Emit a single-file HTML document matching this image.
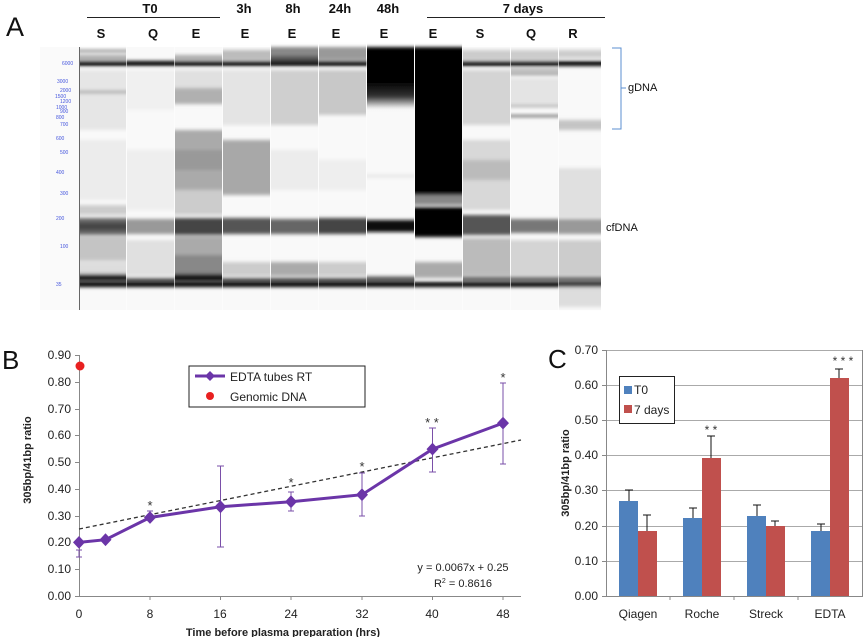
<!DOCTYPE html>
<html><head><meta charset="utf-8"><style>
html,body{margin:0;padding:0;background:#fff;}
svg{display:block;font-family:"Liberation Sans",sans-serif;}
</style></head><body>
<svg width="864" height="637" viewBox="0 0 864 637" xmlns="http://www.w3.org/2000/svg">
<defs>
<filter id="bl" x="0" y="-0.2" width="1" height="1.4"><feGaussianBlur stdDeviation="0 1.8"/></filter>
<linearGradient id="g48" x1="0" y1="0" x2="0" y2="1"><stop offset="0" stop-color="#000"/><stop offset="0.55" stop-color="#000"/><stop offset="0.8" stop-color="#333"/><stop offset="1" stop-color="#fff"/></linearGradient>
</defs>
<!-- Panel A -->
<text x="6" y="36" font-size="27" fill="#111">A</text>
<g font-weight="bold" font-size="13" fill="#111" text-anchor="middle">
<text x="150" y="13">T0</text><text x="244" y="13">3h</text><text x="293" y="13">8h</text><text x="340" y="13">24h</text><text x="388" y="13">48h</text><text x="523" y="13">7 days</text>
<text x="101" y="38">S</text><text x="153" y="38">Q</text><text x="196" y="38">E</text><text x="245" y="38">E</text><text x="292" y="38">E</text><text x="336" y="38">E</text><text x="384" y="38">E</text><text x="433" y="38">E</text><text x="480" y="38">S</text><text x="531" y="38">Q</text><text x="573" y="38">R</text>
</g>
<line x1="87" y1="17.5" x2="220" y2="17.5" stroke="#222" stroke-width="1"/>
<line x1="427" y1="17.5" x2="605" y2="17.5" stroke="#222" stroke-width="1"/>
<rect x="40" y="47" width="39" height="263" fill="#fafafa"/>
<rect x="79" y="47" width="522" height="263" fill="#f9f9f9"/>
<g filter="url(#bl)">
<!-- lane1 S -->
<rect x="80" y="50" width="46" height="2" fill="#777"/><rect x="80" y="55" width="46" height="5" fill="#aaa"/>
<rect x="80" y="70" width="46" height="60" fill="#e6e6e6"/><rect x="80" y="91" width="46" height="2" fill="#888"/>
<rect x="80" y="140" width="46" height="60" fill="#ececec"/><rect x="80" y="205" width="46" height="10" fill="#ccc"/>
<rect x="80" y="218" width="46" height="17" fill="#666"/><rect x="80" y="223" width="46" height="7" fill="#444"/>
<rect x="80" y="236" width="46" height="25" fill="#c4c4c4"/><rect x="80" y="262" width="46" height="14" fill="#ddd"/>
<!-- lane2 Q -->
<rect x="127" y="70" width="47" height="40" fill="#f0f0f0"/><rect x="127" y="150" width="47" height="60" fill="#eee"/>
<rect x="127" y="219" width="47" height="15" fill="#999"/><rect x="127" y="240" width="47" height="36" fill="#e0e0e0"/>
<!-- lane3 E -->
<rect x="175" y="55" width="47" height="5" fill="#aaa"/><rect x="175" y="70" width="47" height="20" fill="#e0e0e0"/>
<rect x="175" y="88" width="47" height="16" fill="#b0b0b0"/><rect x="175" y="130" width="47" height="60" fill="#aaa"/>
<rect x="175" y="150" width="47" height="20" fill="#999"/><rect x="175" y="190" width="47" height="25" fill="#ccc"/>
<rect x="175" y="218" width="47" height="17" fill="#444"/><rect x="175" y="236" width="47" height="40" fill="#aaa"/><rect x="175" y="255" width="47" height="20" fill="#888"/>
<!-- lane4 3h -->
<rect x="223" y="50" width="47" height="10" fill="#bbb"/><rect x="223" y="70" width="47" height="55" fill="#e4e4e4"/>
<rect x="223" y="140" width="47" height="55" fill="#a8a8a8"/><rect x="223" y="218" width="47" height="16" fill="#555"/><rect x="223" y="262" width="47" height="14" fill="#ccc"/>
<!-- lane5 8h -->
<rect x="271" y="47" width="47" height="13" fill="#888"/><rect x="271" y="56" width="47" height="5" fill="#555"/><rect x="271" y="70" width="47" height="55" fill="#cfcfcf"/>
<rect x="271" y="150" width="47" height="40" fill="#ececec"/><rect x="271" y="219" width="47" height="15" fill="#666"/><rect x="271" y="262" width="47" height="14" fill="#aaa"/>
<!-- lane6 24h -->
<rect x="319" y="47" width="47" height="13" fill="#999"/><rect x="319" y="70" width="47" height="45" fill="#c8c8c8"/>
<rect x="319" y="160" width="47" height="30" fill="#eee"/><rect x="319" y="218" width="47" height="16" fill="#444"/><rect x="319" y="262" width="47" height="14" fill="#ccc"/>
<!-- lane7 48h -->
<rect x="367" y="47" width="47" height="62" fill="url(#g48)"/><rect x="367" y="175" width="47" height="2" fill="#ddd"/>
<rect x="367" y="220" width="47" height="12" fill="#111"/><rect x="367" y="276" width="47" height="2" fill="#888"/>
<!-- lane8 7d E -->
<rect x="415" y="47" width="47" height="148" fill="#000"/><rect x="415" y="195" width="47" height="10" fill="#888"/>
<rect x="415" y="207" width="47" height="30" fill="#000"/><rect x="415" y="262" width="47" height="16" fill="#aaa"/>
<!-- lane9 7d S -->
<rect x="463" y="50" width="47" height="10" fill="#ccc"/><rect x="463" y="70" width="47" height="55" fill="#d4d4d4"/>
<rect x="463" y="140" width="47" height="70" fill="#d8d8d8"/><rect x="463" y="160" width="47" height="20" fill="#bbb"/>
<rect x="463" y="215" width="47" height="20" fill="#555"/><rect x="463" y="238" width="47" height="38" fill="#bbb"/>
<!-- lane10 7d Q -->
<rect x="511" y="50" width="47" height="10" fill="#ccc"/><rect x="511" y="69" width="47" height="2" fill="#888"/>
<rect x="511" y="73" width="47" height="2" fill="#777"/><rect x="511" y="83" width="47" height="2" fill="#333"/>
<rect x="511" y="78" width="47" height="30" fill="#e4e4e4"/><rect x="511" y="105" width="47" height="2" fill="#aaa"/><rect x="511" y="115" width="47" height="2" fill="#555"/>
<rect x="511" y="219" width="47" height="14" fill="#777"/><rect x="511" y="240" width="47" height="36" fill="#d4d4d4"/>
<!-- lane11 R -->
<rect x="559" y="50" width="42" height="8" fill="#ccc"/><rect x="559" y="120" width="42" height="10" fill="#c4c4c4"/>
<rect x="559" y="168" width="42" height="50" fill="#e0e0e0"/><rect x="559" y="219" width="42" height="15" fill="#999"/>
<rect x="559" y="240" width="42" height="36" fill="#ccc"/><rect x="559" y="287" width="42" height="20" fill="#ddd"/>
<!-- markers -->
<rect x="80" y="61" width="287" height="5" fill="#000"/><rect x="463" y="61" width="138" height="5" fill="#000"/>
<rect x="80" y="278" width="335" height="3" fill="#222"/><rect x="80" y="282" width="521" height="5" fill="#000"/>
<rect x="463" y="277" width="138" height="3" fill="#111"/><rect x="80" y="274" width="46" height="4" fill="#111"/><rect x="175" y="274" width="47" height="6" fill="#111"/>
</g>
<g stroke="#fff" stroke-width="1" opacity="0.6">
<line x1="126.5" y1="47" x2="126.5" y2="310"/><line x1="174.5" y1="47" x2="174.5" y2="310"/><line x1="222.5" y1="47" x2="222.5" y2="310"/><line x1="270.5" y1="47" x2="270.5" y2="310"/><line x1="318.5" y1="47" x2="318.5" y2="310"/><line x1="366.5" y1="47" x2="366.5" y2="310"/><line x1="414.5" y1="47" x2="414.5" y2="310"/><line x1="462.5" y1="47" x2="462.5" y2="310"/><line x1="510.5" y1="47" x2="510.5" y2="310"/><line x1="558.5" y1="47" x2="558.5" y2="310"/>
</g>
<line x1="79.5" y1="47" x2="79.5" y2="310" stroke="#666"/>
<g font-size="5" fill="#4455dd" stroke="none">
<text x="62" y="65">6000</text><text x="57" y="83">3000</text><text x="60" y="92">2000</text><text x="55" y="98">1500</text><text x="60" y="103">1200</text><text x="56" y="109">1000</text><text x="60" y="113">900</text><text x="56" y="119">800</text><text x="60" y="126">700</text><text x="56" y="140">600</text><text x="60" y="154">500</text><text x="56" y="174">400</text><text x="60" y="195">300</text><text x="56" y="220">200</text><text x="60" y="248">100</text><text x="56" y="286">35</text>
</g>
<path d="M612 48 H621 V129 H612 M621 88 H626" fill="none" stroke="#5b8fd0" stroke-width="1"/>
<text x="628" y="91" font-size="11" fill="#111">gDNA</text>
<text x="606" y="231" font-size="11" fill="#111">cfDNA</text>

<!-- Panel B -->
<text x="2" y="369" font-size="26" fill="#111">B</text>
<g stroke="#888" stroke-width="1">
<line x1="79.5" y1="355" x2="79.5" y2="597"/><line x1="79" y1="596.5" x2="521" y2="596.5"/>
<line x1="75" y1="355.5" x2="79" y2="355.5"/><line x1="75" y1="382.5" x2="79" y2="382.5"/><line x1="75" y1="409.5" x2="79" y2="409.5"/><line x1="75" y1="435.5" x2="79" y2="435.5"/><line x1="75" y1="462.5" x2="79" y2="462.5"/><line x1="75" y1="489.5" x2="79" y2="489.5"/><line x1="75" y1="516.5" x2="79" y2="516.5"/><line x1="75" y1="542.5" x2="79" y2="542.5"/><line x1="75" y1="569.5" x2="79" y2="569.5"/><line x1="75" y1="596.5" x2="79" y2="596.5"/>
<line x1="150" y1="596" x2="150" y2="600"/><line x1="220.5" y1="596" x2="220.5" y2="600"/><line x1="291" y1="596" x2="291" y2="600"/><line x1="362" y1="596" x2="362" y2="600"/><line x1="432.5" y1="596" x2="432.5" y2="600"/><line x1="503" y1="596" x2="503" y2="600"/>
</g>
<g font-size="12" fill="#222" text-anchor="end">
<text x="71" y="359">0.90</text><text x="71" y="386">0.80</text><text x="71" y="413">0.70</text><text x="71" y="439">0.60</text><text x="71" y="466">0.50</text><text x="71" y="493">0.40</text><text x="71" y="520">0.30</text><text x="71" y="546">0.20</text><text x="71" y="573">0.10</text><text x="71" y="600">0.00</text>
</g>
<g font-size="12" fill="#222" text-anchor="middle">
<text x="79" y="618">0</text><text x="150" y="618">8</text><text x="220" y="618">16</text><text x="291" y="618">24</text><text x="362" y="618">32</text><text x="432" y="618">40</text><text x="503" y="618">48</text>
</g>
<text x="283" y="636" font-size="11" font-weight="bold" fill="#222" text-anchor="middle">Time before plasma preparation (hrs)</text>
<text transform="translate(31,460) rotate(-90)" font-size="11" font-weight="bold" fill="#222" text-anchor="middle">305bp/41bp ratio</text>
<line x1="79" y1="529" x2="521" y2="440" stroke="#333" stroke-width="1.3" stroke-dasharray="4,3"/>
<g stroke="#7a4fa8" stroke-width="1">
<path d="M79 550V557M76 550H82M76 557H82"/>
<path d="M150 511V518M147 511H153M147 518H153"/>
<path d="M220.5 466V547M217 466H224M217 547H224"/>
<path d="M291 492V511M288 492H294M288 511H294"/>
<path d="M362 473V516M359 473H365M359 516H365"/>
<path d="M432.5 428V472M429 428H436M429 472H436"/>
<path d="M503 383V464M500 383H506M500 464H506"/>
</g>
<polyline points="79,542.4 105.5,539.7 150,517.5 220.5,506.8 291,501.7 362,494.7 432.5,449.1 503,423.1" fill="none" stroke="#6b35a8" stroke-width="3"/>
<g fill="#6b35a8">
<path d="M79 536l6 6.4-6 6.4-6-6.4z"/><path d="M105.5 533.3l6 6.4-6 6.4-6-6.4z"/><path d="M150 511.1l6 6.4-6 6.4-6-6.4z"/><path d="M220.5 500.4l6 6.4-6 6.4-6-6.4z"/><path d="M291 495.3l6 6.4-6 6.4-6-6.4z"/><path d="M362 488.3l6 6.4-6 6.4-6-6.4z"/><path d="M432.5 442.7l6 6.4-6 6.4-6-6.4z"/><path d="M503 416.7l6 6.4-6 6.4-6-6.4z"/>
</g>
<circle cx="80" cy="366" r="4.5" fill="#e82020"/>
<g font-size="13" fill="#333" text-anchor="middle">
<text x="150" y="510">*</text><text x="291" y="487">*</text><text x="362" y="471">*</text><text x="432" y="427">* *</text><text x="503" y="382">*</text>
</g>
<rect x="189" y="366" width="176" height="41" fill="#fff" stroke="#222" stroke-width="1"/>
<line x1="195" y1="376" x2="225" y2="376" stroke="#6b35a8" stroke-width="3"/><path d="M210 371l5 5-5 5-5-5z" fill="#6b35a8"/>
<text x="230" y="381" font-size="12" fill="#222">EDTA tubes  RT</text>
<circle cx="210" cy="396" r="4" fill="#e82020"/>
<text x="230" y="401" font-size="12" fill="#222">Genomic DNA</text>
<text x="463" y="571" font-size="11" fill="#222" text-anchor="middle">y = 0.0067x + 0.25</text>
<text x="463" y="587" font-size="11" fill="#222" text-anchor="middle">R<tspan font-size="7" dy="-4">2</tspan><tspan dy="4"> = 0.8616</tspan></text>

<!-- Panel C -->
<text x="548" y="368" font-size="26" fill="#111">C</text>
<g stroke="#aaa" stroke-width="1">
<line x1="606" y1="350.5" x2="862" y2="350.5"/><line x1="606" y1="385.5" x2="862" y2="385.5"/><line x1="606" y1="420.5" x2="862" y2="420.5"/><line x1="606" y1="455.5" x2="862" y2="455.5"/><line x1="606" y1="490.5" x2="862" y2="490.5"/><line x1="606" y1="526.5" x2="862" y2="526.5"/><line x1="606" y1="561.5" x2="862" y2="561.5"/>
</g>
<g stroke="#888" stroke-width="1">
<line x1="606.5" y1="350" x2="606.5" y2="597"/><line x1="862.5" y1="350" x2="862.5" y2="597"/><line x1="606" y1="596.5" x2="863" y2="596.5"/>
<line x1="602" y1="350.5" x2="606" y2="350.5"/><line x1="602" y1="385.5" x2="606" y2="385.5"/><line x1="602" y1="420.5" x2="606" y2="420.5"/><line x1="602" y1="455.5" x2="606" y2="455.5"/><line x1="602" y1="490.5" x2="606" y2="490.5"/><line x1="602" y1="526.5" x2="606" y2="526.5"/><line x1="602" y1="561.5" x2="606" y2="561.5"/><line x1="602" y1="596.5" x2="606" y2="596.5"/>
<line x1="670" y1="596" x2="670" y2="600"/><line x1="734" y1="596" x2="734" y2="600"/><line x1="798" y1="596" x2="798" y2="600"/>
</g>
<g font-size="12" fill="#222" text-anchor="end">
<text x="598" y="354">0.70</text><text x="598" y="389">0.60</text><text x="598" y="424">0.50</text><text x="598" y="459">0.40</text><text x="598" y="494">0.30</text><text x="598" y="530">0.20</text><text x="598" y="565">0.10</text><text x="598" y="600">0.00</text>
</g>
<g font-size="12" fill="#222" text-anchor="middle">
<text x="638" y="618">Qiagen</text><text x="702" y="618">Roche</text><text x="766" y="618">Streck</text><text x="830" y="618">EDTA</text>
</g>
<text transform="translate(569,473) rotate(-90)" font-size="11" font-weight="bold" fill="#222" text-anchor="middle">305bp/41bp ratio</text>
<g stroke="#111" stroke-width="1">
<path d="M629 501V490M625 490H633"/><path d="M647 531V515M643 515H651"/>
<path d="M693 518V508M689 508H697"/><path d="M711 458V436M707 436H715"/>
<path d="M757 516V505M753 505H761"/><path d="M775 526V521M771 521H779"/>
<path d="M821 531V524M817 524H825"/><path d="M839 378V369M835 369H843"/>
</g>
<g fill="#4f81bd">
<rect x="619" y="501" width="19" height="95"/><rect x="683" y="518" width="19" height="78"/><rect x="747" y="516" width="19" height="80"/><rect x="811" y="531" width="19" height="65"/>
</g>
<g fill="#c0504d">
<rect x="638" y="531" width="19" height="65"/><rect x="702" y="458" width="19" height="138"/><rect x="766" y="526" width="19" height="70"/><rect x="830" y="378" width="19" height="218"/>
</g>
<g font-size="12" fill="#333" text-anchor="middle">
<text x="711" y="434">* *</text><text x="843" y="365">* * *</text>
</g>
<rect x="619.5" y="376.5" width="55" height="47" fill="#fff" stroke="#222"/>
<rect x="624" y="386" width="8" height="8" fill="#4f81bd"/><text x="634" y="394" font-size="12" fill="#222">T0</text>
<rect x="624" y="405" width="8" height="8" fill="#c0504d"/><text x="634" y="414" font-size="12" fill="#222">7 days</text>
</svg>
</body></html>
